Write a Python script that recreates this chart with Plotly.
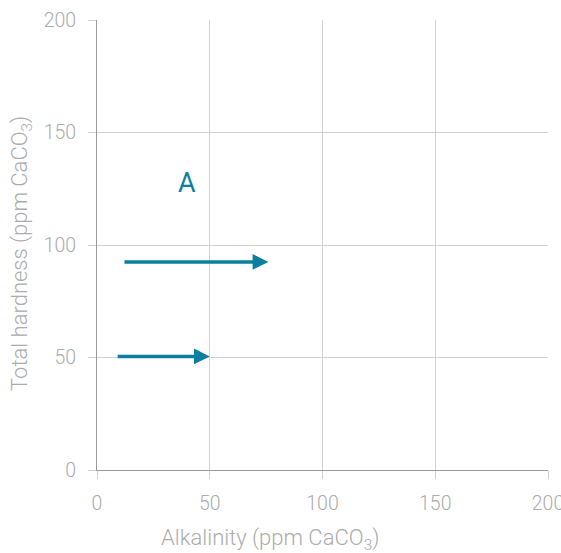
import plotly.graph_objects as go

# Data
arrow_x_start = [11.5, 8.5]
arrow_x_end = [76, 50]
arrow_y = [92.5, 50.5]
label_text = ["A"]
label_x = [40]
label_y = [127.5]
tick_vals = [0, 50, 100, 150, 200]
x_title = "Alkalinity (ppm CaCO<sub>3</sub>)"
y_title = "Total hardness (ppm CaCO<sub>3</sub>)"

ARROW_COLOR = "#0b7fa1"
TEXT_COLOR = "#acacac"
GRID_COLOR = "#d2d2d2"
AXIS_COLOR = "#9a9a9a"
FONT = "Roboto Light, Roboto, sans-serif"

fig = go.Figure()
fig.add_trace(go.Scatter(x=[None], y=[None], mode="markers", showlegend=False, hoverinfo="skip"))

annotations = []
for xs, xe, yv in zip(arrow_x_start, arrow_x_end, arrow_y):
    annotations.append(dict(
        x=xe, y=yv, ax=xs, ay=yv, xref="x", yref="y", axref="x", ayref="y",
        showarrow=True, arrowhead=2, arrowsize=0.9, arrowwidth=3.5,
        arrowcolor=ARROW_COLOR, standoff=0, startstandoff=0, text=""))
for t, lx, ly in zip(label_text, label_x, label_y):
    annotations.append(dict(x=lx, y=ly, xref="x", yref="y", text=t, showarrow=False,
                            font=dict(size=27, color=ARROW_COLOR, family="Roboto, sans-serif")))

# axis titles (positioned as in the reference)
annotations.append(dict(text=x_title, xref="paper", yref="paper", x=0.384, y=-0.155,
                        xanchor="center", yanchor="middle", showarrow=False,
                        font=dict(size=22, color=TEXT_COLOR, family=FONT)))
annotations.append(dict(text=y_title, xref="paper", yref="paper", x=-0.1685, y=0.48,
                        xanchor="center", yanchor="middle", showarrow=False, textangle=-90,
                        font=dict(size=22, color=TEXT_COLOR, family=FONT)))

axis_common = dict(
    range=[0, 200], tickvals=tick_vals, showgrid=True, gridcolor=GRID_COLOR, gridwidth=1,
    showline=True, linecolor=AXIS_COLOR, linewidth=1, ticks="outside", ticklen=8,
    tickcolor=GRID_COLOR, zeroline=False, ticklabeloverflow="allow", automargin=False,
    tickfont=dict(size=19.5, color=TEXT_COLOR, family=FONT),
)

fig.update_layout(
    width=561, height=553,
    margin=dict(l=97, r=13, t=20, b=83, autoexpand=False),
    paper_bgcolor="white", plot_bgcolor="white",
    font=dict(family=FONT, color=TEXT_COLOR),
    xaxis=dict(**axis_common, ticklabelstandoff=8),
    yaxis=dict(**axis_common, ticklabelstandoff=8),
    annotations=annotations,
    showlegend=False,
)

fig.write_html("out.html")
